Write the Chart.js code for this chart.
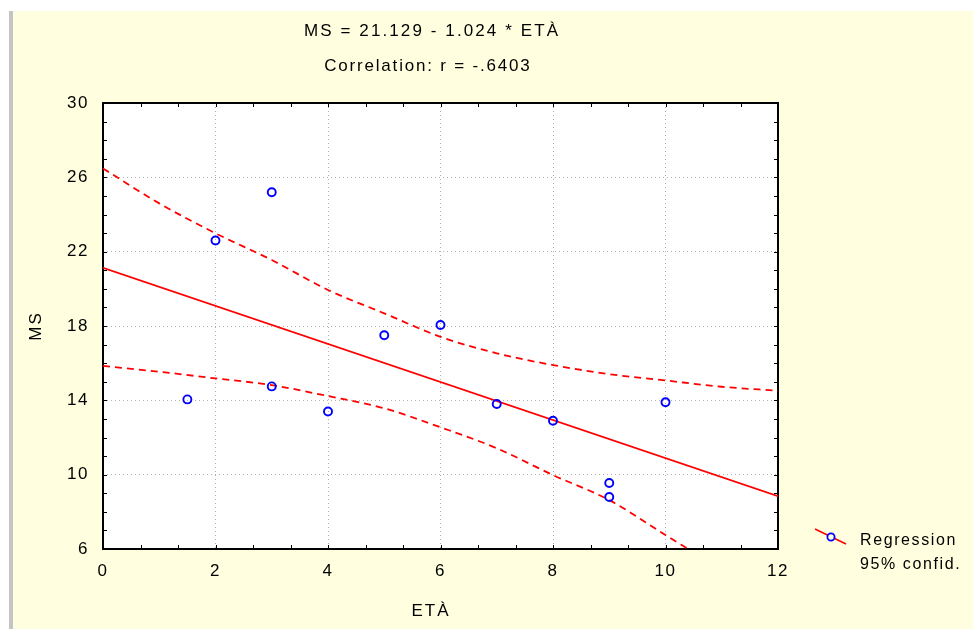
<!DOCTYPE html>
<html><head><meta charset="utf-8">
<script src="https://cdn.jsdelivr.net/npm/chart.js@4.4.0/dist/chart.umd.min.js"></script>
<style>html,body{margin:0;padding:0;background:#fff;overflow:hidden}#wrap{width:973px;height:629px}</style>
</head><body><div id="wrap"><canvas id="c" width="973" height="629"></canvas></div>
<script>
// ---- data ----
const titleLines = ['MS = 21.129 - 1.024 * ETÀ', 'Correlation: r = -.6403'];
const xAxisTitle = 'ETÀ';
const yAxisTitle = 'MS';
const legendLabels = ['Regression', '95% confid.'];
const xMin = 0, xMax = 12, xStep = 2;
const yMin = 6, yMax = 30, yStep = 4;

const etaValues = [1.5, 2, 3, 3, 4, 5, 6, 7, 8, 9, 9, 10];
const msValues  = [14.05, 22.6, 25.2, 14.75, 13.4, 17.5, 18.05, 13.8, 12.9, 9.55, 8.8, 13.9];

const regX = [0, 12];
const regY = [21.13, 8.84];

const upperX = [0, 1, 2, 3, 4, 5, 6, 7, 8, 9, 10, 11, 12];
const upperY = [26.48, 24.6, 22.99, 21.55, 19.94, 18.68, 17.42, 16.53, 15.9, 15.41, 15.07, 14.73, 14.52];

const lowerX = [0, 1, 2, 3, 4, 5, 6, 7, 8, 9, 10, 10.4];
const lowerY = [15.85, 15.54, 15.18, 14.82, 14.23, 13.57, 12.55, 11.42, 9.98, 8.63, 6.75, 6.0];

// ---- build ----
const pts = (xs, ys) => xs.map((x, i) => ({x: x, y: ys[i]}));
const FONT = '"Liberation Sans", Arial, sans-serif';
const RED = '#ff0000', BLUE = '#0000ff';

function spacedText(ctx, text, x, y, spacing, align) {
  ctx.letterSpacing = spacing + 'px';
  const w = ctx.measureText(text).width - spacing;
  let sx = x;
  if (align === 'center') sx = x - w / 2;
  ctx.textAlign = 'left';
  ctx.fillText(text, sx, y);
}

const decor = {
  id: 'decor',
  beforeDraw(chart) {
    const ctx = chart.ctx, a = chart.chartArea;
    ctx.save();
    ctx.fillStyle = '#ffffff';
    ctx.fillRect(0, 0, chart.width, chart.height);
    ctx.fillStyle = '#ffffe0';
    ctx.fillRect(9, 11, chart.width - 9, chart.height - 11);
    ctx.fillStyle = '#c4c4c4';
    ctx.fillRect(9, 11, 4, chart.height - 11);
    ctx.fillStyle = '#ffffff';
    ctx.fillRect(a.left, a.top, a.right - a.left, a.bottom - a.top);
    ctx.restore();
    ctx.letterSpacing = '1.5px';
  },
  beforeDatasetsDraw(chart) {
    const ctx = chart.ctx, a = chart.chartArea;
    const xs = chart.scales.x, ys = chart.scales.y;
    ctx.save();
    ctx.strokeStyle = '#000';
    ctx.lineWidth = 1;
    ctx.beginPath();
    for (let k = 1; k < 18; k++) {
      const px = Math.round(xs.getPixelForValue(k * 2 / 3)) + 0.5;
      ctx.moveTo(px, a.bottom); ctx.lineTo(px, a.bottom - 4);
      ctx.moveTo(px, a.top); ctx.lineTo(px, a.top + 4);
    }
    for (let v = yMin + 1; v < yMax; v++) {
      const py = Math.round(ys.getPixelForValue(v)) + 0.5;
      ctx.moveTo(a.left, py); ctx.lineTo(a.left + 4, py);
      ctx.moveTo(a.right, py); ctx.lineTo(a.right - 4, py);
    }
    ctx.stroke();
    ctx.lineWidth = 2;
    ctx.strokeRect(a.left, a.top, a.right - a.left, a.bottom - a.top);
    ctx.restore();
  },
  afterDraw(chart) {
    const ctx = chart.ctx;
    ctx.save();
    ctx.fillStyle = '#000';
    ctx.textBaseline = 'alphabetic';
    ctx.font = '17px ' + FONT;
    spacedText(ctx, titleLines[0], 431, 36, 2.1, 'center');
    spacedText(ctx, titleLines[1], 427, 71, 1.8, 'center');
    spacedText(ctx, xAxisTitle, 430, 616, 2, 'center');
    ctx.save();
    ctx.translate(41, 327);
    ctx.rotate(-Math.PI / 2);
    spacedText(ctx, yAxisTitle, 0, 0, 2, 'center');
    ctx.restore();
    // legend
    ctx.font = '16px ' + FONT;
    spacedText(ctx, legendLabels[0], 860, 545, 1.6, 'left');
    spacedText(ctx, legendLabels[1], 860, 569, 1.6, 'left');
    ctx.strokeStyle = RED; ctx.lineWidth = 1.5;
    ctx.beginPath(); ctx.moveTo(815, 529); ctx.lineTo(846, 544); ctx.stroke();
    ctx.strokeStyle = BLUE; ctx.lineWidth = 1.8; ctx.fillStyle = '#ffffe0';
    ctx.beginPath(); ctx.arc(831, 537, 3.6, 0, Math.PI * 2); ctx.fill(); ctx.stroke();
    ctx.restore();
  }
};

new Chart(document.getElementById('c'), {
  type: 'scatter',
  data: {
    datasets: [
      { label: 'data', data: pts(etaValues, msValues), showLine: false,
        pointRadius: 4, pointBorderWidth: 1.9, pointBorderColor: BLUE,
        pointBackgroundColor: 'rgba(255,255,255,0)', pointStyle: 'circle' },
      { label: 'Regression', data: pts(regX, regY), showLine: true, pointRadius: 0,
        borderColor: RED, borderWidth: 1.8 },
      { label: 'upper', data: pts(upperX, upperY), showLine: true, pointRadius: 0,
        borderColor: RED, borderWidth: 1.8, borderDash: [7, 5], tension: 0.4, cubicInterpolationMode: 'monotone' },
      { label: 'lower', data: pts(lowerX, lowerY), showLine: true, pointRadius: 0,
        borderColor: RED, borderWidth: 1.8, borderDash: [7, 5], tension: 0.4, cubicInterpolationMode: 'monotone' }
    ]
  },
  options: {
    responsive: false, animation: false, devicePixelRatio: 1,
    layout: { padding: { top: 103, right: 195, bottom: 0, left: 0 } },
    plugins: { legend: { display: false }, title: { display: false }, tooltip: { enabled: false } },
    scales: {
      x: { type: 'linear', min: xMin, max: xMax,
        ticks: { stepSize: xStep, color: '#000', font: { family: FONT, size: 17 }, padding: 12, maxRotation: 0 },
        grid: { color: '#b0b0b0', lineWidth: 1, drawTicks: false },
        border: { display: false, dash: [1, 3] },
        afterFit(s) { s.height = 80; } },
      y: { type: 'linear', min: yMin, max: yMax,
        ticks: { stepSize: yStep, color: '#000', font: { family: FONT, size: 17 }, padding: 14 },
        grid: { color: '#b0b0b0', lineWidth: 1, drawTicks: false },
        border: { display: false, dash: [1, 3] },
        afterFit(s) { s.width = 103; } }
    }
  },
  plugins: [decor]
});
</script></body></html>
